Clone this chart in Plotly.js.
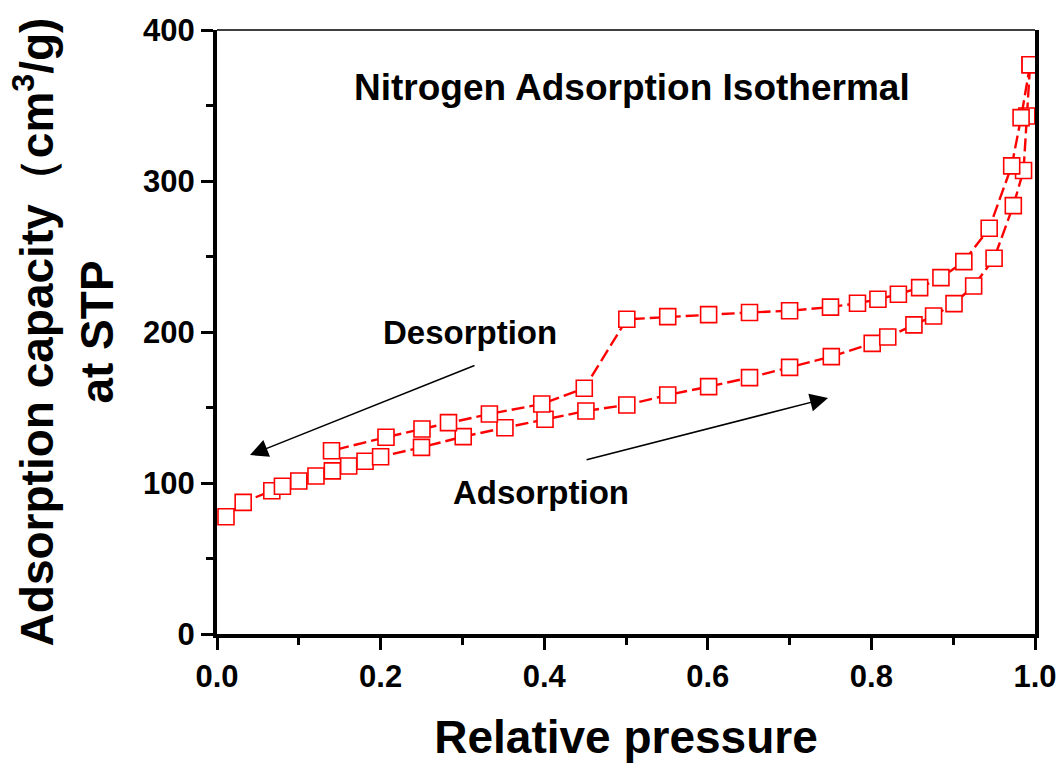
<!DOCTYPE html>
<html>
<head>
<meta charset="utf-8">
<script src="https://cdn.plot.ly/plotly-3.0.1.min.js"></script>
<style>html,body{margin:0;padding:0;background:#fff;}#chart{width:1063px;height:763px;}</style>
</head>
<body>
<div id="chart"></div>
<script>
// Adsorption branch (lower)
const adsX = [0.011, 0.032, 0.067, 0.080, 0.100, 0.121, 0.141, 0.161, 0.181, 0.200,
              0.250, 0.301, 0.352, 0.401, 0.451, 0.501, 0.551, 0.601, 0.651, 0.700,
              0.751, 0.801, 0.820, 0.852, 0.876, 0.901, 0.925, 0.950, 0.9735, 0.986,
              0.990, 0.994];
const adsY = [77.6, 87.2, 94.9, 97.8, 101.3, 104.6, 108.0, 111.3, 114.4, 117.4,
              123.6, 130.7, 136.6, 142.2, 147.7, 151.7, 158.3, 163.8, 169.8, 176.6,
              183.7, 192.5, 196.7, 204.7, 210.6, 218.8, 230.5, 248.8, 283.7, 307.0,
              343.0, 377.0];
// Desorption branch (upper)
const desX = [0.994, 0.983, 0.9715, 0.944, 0.913, 0.885, 0.859, 0.833, 0.808, 0.783,
              0.750, 0.700, 0.651, 0.601, 0.551, 0.501, 0.449, 0.397, 0.333, 0.283,
              0.2506, 0.2066, 0.140];
const desY = [377.0, 342.0, 310.0, 268.7, 246.6, 236.0, 229.4, 225.0, 221.7, 219.0,
              216.5, 214.1, 212.9, 211.5, 210.2, 208.4, 162.7, 152.3, 145.7, 140.0,
              135.8, 130.3, 121.4];

const xTicks = [0.0, 0.2, 0.4, 0.6, 0.8, 1.0];
const xTickText = ['0.0', '0.2', '0.4', '0.6', '0.8', '1.0'];
const yTicks = [0, 100, 200, 300, 400];

const FONT = 'Arial, "Liberation Sans", sans-serif';
const red = '#ff0000';

function branch(x, y, name) {
  return {
    x: x, y: y, name: name, type: 'scatter', mode: 'lines+markers',
    cliponaxis: false,
    line: {color: red, width: 2.4, dash: '13px,5px'},
    marker: {symbol: 'square', size: 16, color: '#ffffff', line: {color: red, width: 1.6}}
  };
}

const data = [branch(adsX, adsY, 'Adsorption'), branch(desX, desY, 'Desorption')];

const layout = {
  width: 1063, height: 763,
  margin: {l: 217, r: 28, t: 30, b: 129},
  paper_bgcolor: '#ffffff', plot_bgcolor: '#ffffff',
  showlegend: false,
  font: {family: FONT, color: '#000'},
  xaxis: {
    range: [0, 1], tickvals: xTicks, ticktext: xTickText,
    ticks: 'outside', ticklen: 12, tickwidth: 3, tickcolor: '#000',
    minor: {dtick: 0.1, ticks: 'outside', ticklen: 7, tickwidth: 3, tickcolor: '#000'},
    showline: true, linewidth: 4, linecolor: '#000', mirror: false,
    showgrid: false, zeroline: false,
    tickfont: {family: FONT, size: 31, color: '#000', weight: 'bold'},
    title: {text: '<b>Relative pressure</b>', font: {family: FONT, size: 46, color: '#000'}, standoff: 30}
  },
  yaxis: {
    range: [0, 400], tickvals: yTicks,
    ticks: 'outside', ticklen: 12, tickwidth: 3, tickcolor: '#000',
    minor: {dtick: 50, ticks: 'outside', ticklen: 7, tickwidth: 3, tickcolor: '#000'},
    showline: true, linewidth: 4, linecolor: '#000', mirror: true,
    showgrid: false, zeroline: false,
    tickfont: {family: FONT, size: 31, color: '#000', weight: 'bold'},
    title: {text: '<b>Adsorption capacity（cm<sup>3</sup>/g)<br>at STP</b>', font: {family: FONT, size: 46, color: '#000'}, standoff: 16}
  },
  shapes: [
    {type: 'line', xref: 'paper', yref: 'paper', x0: 0, x1: 1, y0: 1, y1: 1, line: {color: '#000', width: 1.5}}
  ],
  annotations: [
    {x: 0.507, y: 362, xref: 'x', yref: 'y', text: '<b>Nitrogen Adsorption Isothermal</b>', showarrow: false,
     font: {family: FONT, size: 37, color: '#000'}},
    {x: 0.309, y: 199.4, xref: 'x', yref: 'y', text: '<b>Desorption</b>', showarrow: false,
     font: {family: FONT, size: 33, color: '#000'}},
    {x: 0.396, y: 93.4, xref: 'x', yref: 'y', text: '<b>Adsorption</b>', showarrow: false,
     font: {family: FONT, size: 33, color: '#000'}},
    {x: 0.0403, y: 118.5, xref: 'x', yref: 'y', ax: 0.3166, ay: 178.2, axref: 'x', ayref: 'y',
     text: '', showarrow: true, arrowhead: 2, arrowsize: 2.4, arrowwidth: 1.5, arrowcolor: '#000'},
    {x: 0.747, y: 156.3, xref: 'x', yref: 'y', ax: 0.450, ay: 115.2, axref: 'x', ayref: 'y',
     text: '', showarrow: true, arrowhead: 2, arrowsize: 2.4, arrowwidth: 1.5, arrowcolor: '#000'}
  ]
};

Plotly.newPlot('chart', data, layout, {displayModeBar: false, staticPlot: true});
</script>
</body>
</html>
